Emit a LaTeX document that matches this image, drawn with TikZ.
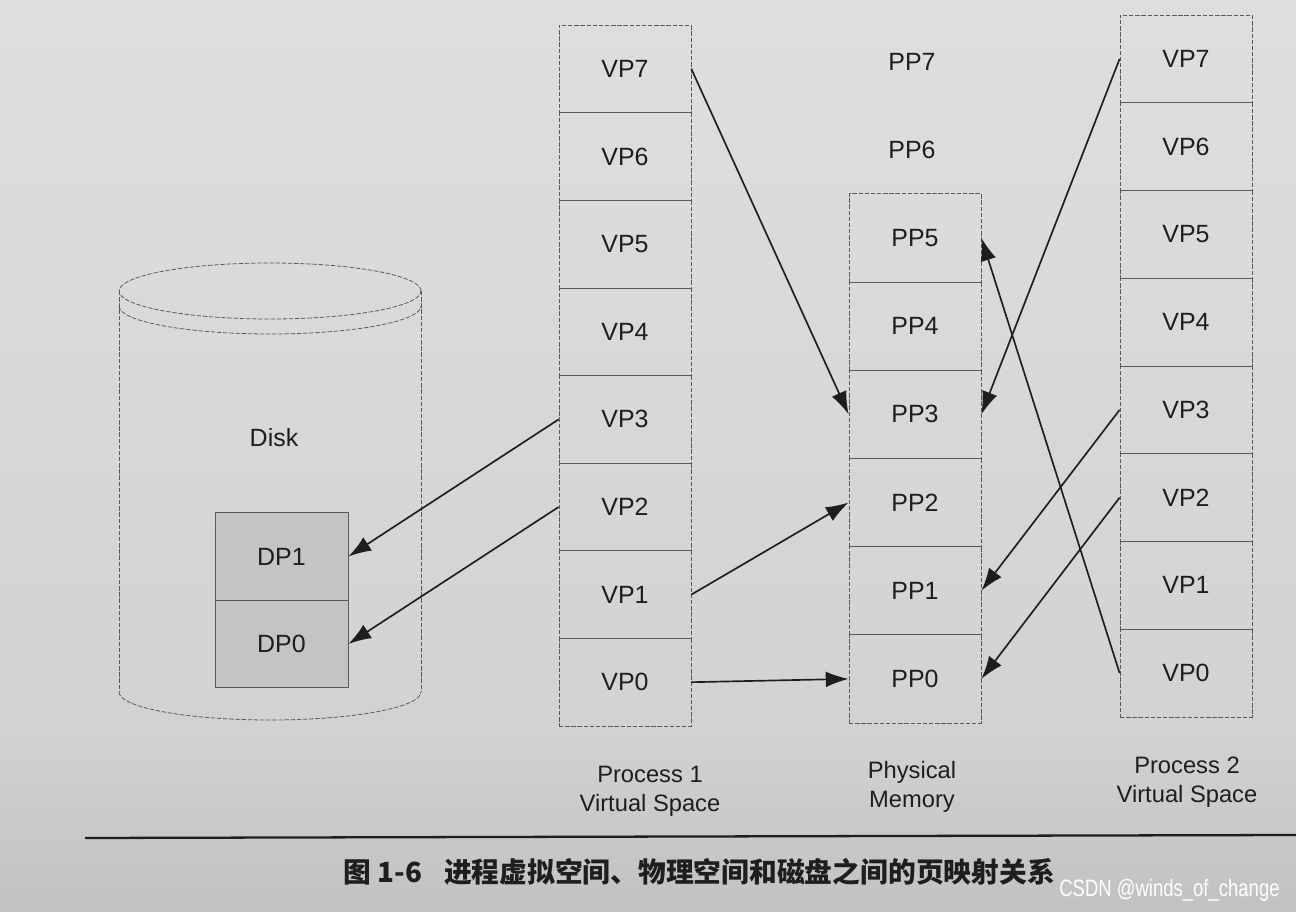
\documentclass[tikz,border=0pt]{standalone}
\usepackage{fontspec}
\usepackage{graphicx}
\setmainfont{Liberation Sans}
\newfontfamily\cjk{Noto Sans CJK SC}
\usetikzlibrary{arrows.meta}
\definecolor{ink}{HTML}{1E1E1E}
\definecolor{edge}{HTML}{5A5A5A}
\definecolor{dpfill}{HTML}{C4C4C4}
\definecolor{bga}{HTML}{8C8C8C}
\definecolor{bgb}{HTML}{ACACAC}
\definecolor{bgc}{HTML}{D2D2D4}
\definecolor{bgd}{HTML}{DDDDDF}
\definecolor{bge}{HTML}{E3E3E5}
\pgfdeclareverticalshading{pagebg}{100bp}{color(0bp)=(bga); color(12bp)=(bgb); color(35bp)=(bgc); color(70bp)=(bgd); color(100bp)=(bge)}
\tikzset{
  cell/.style={rectangle, draw=edge, dashed, dash pattern=on 2.5pt off 1pt, line width=0.45pt,
    minimum width=2.64cm, minimum height=1.755cm, inner sep=0pt, text=ink, font=\fontsize{14.2}{16}\selectfont},
  pcell/.style={cell, minimum height=1.764cm},
  plain/.style={text=ink, font=\fontsize{14.2}{16}\selectfont, inner sep=0pt},
  dpcell/.style={rectangle, draw=edge, line width=0.5pt, fill=dpfill, minimum width=2.66cm,
    minimum height=1.75cm, inner sep=0pt, text=ink, font=\fontsize{14.2}{16}\selectfont},
  lab/.style={align=center, text=ink, font=\fontsize{13.5}{16.5}\selectfont, inner sep=0pt},
  arr/.style={-{Latex[length=13pt,width=9pt]}, line width=0.95pt, draw=ink},
  dk/.style={draw=edge, dashed, dash pattern=on 2.5pt off 1pt, line width=0.45pt}
}
\begin{document}
\begin{tikzpicture}[x=0.02cm,y=-0.02cm]
\useasboundingbox (0,0) rectangle (1296,912);
\shade[shading=pagebg] (0,0) rectangle (1296,912);

% Disk cylinder
\draw[dk] (270,291) ellipse [x radius=3.02cm, y radius=0.56cm];
\draw[dk] (119,306) arc[start angle=180, end angle=360, x radius=3.02cm, y radius=0.56cm];
\draw[dk] (119,291) -- (119,692);
\draw[dk] (421,291) -- (421,692);
\draw[dk] (119,692) arc[start angle=180, end angle=360, x radius=3.02cm, y radius=0.56cm];
\node[plain] (disk) at (274,438) {Disk};
\node[dpcell] (d1) at (281.5,556.5) {DP1};
\node[dpcell] (d0) at (281.5,644) {DP0};

% Process 1
\foreach \i in {0,...,7} \node[cell] (a\i) at (625,{726-87.6*(\i+0.5)}) {VP\i};
% Physical memory
\foreach \i in {0,...,5} \node[pcell] (m\i) at (915,{723-88.2*(\i+0.5)}) {PP\i};
\node[plain] (m7) at (912,62) {PP7};
\node[plain] (m6) at (912,150) {PP6};
% Process 2
\foreach \i in {0,...,7} \node[cell] (b\i) at (1186,{717-87.75*(\i+0.5)}) {VP\i};

% Column labels
\node[lab] (l1) at (650,791) {Process 1\\Virtual Space};
\node[lab] (l2) at (912,787) {Physical\\Memory};
\node[lab] (l3) at (1187,782) {Process 2\\Virtual Space};

% Arrows
\draw[arr] (a7.east) -- (m3.west);
\draw[arr] (a3.west) -- (d1.east);
\draw[arr] (a2.west) -- (d0.east);
\draw[arr] (a1.east) -- (m2.west);
\draw[arr] (a0.east) -- (m0.west);
\draw[arr] (b7.west) -- (m3.east);
\draw[arr] (b3.west) -- (m1.east);
\draw[arr] (b2.west) -- (m0.east);
\draw[arr] (b0.west) -- (m5.east);

% Rule and caption
\coordinate (r1) at (85,838);
\coordinate (r2) at (1296,835);
\draw[line width=1.3pt, draw=ink] (r1) -- (r2);
\node[anchor=west, inner sep=0pt, text=ink, font=\cjk\bfseries\fontsize{15.8}{18}\selectfont] (cap) at (343,872) {图 1-6\hspace{0.8em}进程虚拟空间、物理空间和磁盘之间的页映射关系};
\node[anchor=east, inner sep=0pt, text=white, font=\fontsize{13.5}{15}\selectfont] (wm) at (1280,890) {\scalebox{0.78}[1]{CSDN @winds\_of\_change}};
\end{tikzpicture}
\end{document}
